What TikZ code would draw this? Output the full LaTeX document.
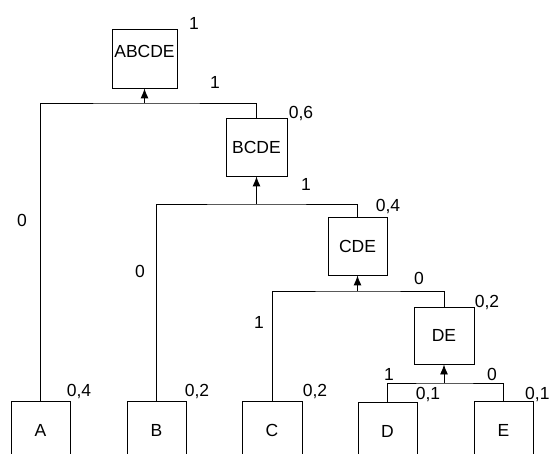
\documentclass[tikz,border=0pt]{standalone}
\usepackage{fontspec}
\setmainfont{Liberation Sans}
\usetikzlibrary{arrows.meta}
\begin{document}
\begin{tikzpicture}[x=1pt,y=-1pt,
  box/.style={draw, line width=0.9pt, minimum width=60pt, minimum height=58pt, inner sep=0pt,
    text height=12.5pt, text depth=0pt, font=\fontsize{17.5}{20}\selectfont},
  lbl/.style={inner sep=0pt, text height=12.5pt, text depth=0pt, font=\fontsize{17.5}{20}\selectfont},
  edge/.style={line width=0.9pt},
  up/.style={line width=0.9pt, -{Latex[length=10pt,width=8pt]}}]
\useasboundingbox (0,0) rectangle (549,454);
\clip (0,0) rectangle (549,454);
% boxes
\node[box, minimum width=65pt, minimum height=59pt, text depth=14pt] (abcde) at (144.5,58.5) {ABCDE};
\node[box, minimum width=61pt] (bcde) at (256.5,147) {BCDE};
\node[box, minimum width=59pt] (cde) at (357.5,246) {CDE};
\node[box, minimum width=60pt, minimum height=57pt] (de) at (444,335.5) {DE};
\node[box, minimum width=59pt] (a) at (40.5,430) {A};
\node[box, minimum width=59pt] (b) at (156.5,430) {B};
\node[box, minimum width=60pt] (c) at (272,430) {C};
\node[box, minimum width=59pt] (d) at (387.5,431) {D};
\node[box, minimum width=59pt] (e) at (503.5,430) {E};
% junctions
\coordinate (j1) at (144.5,103);
\coordinate (j2) at (256.5,204);
\coordinate (j3) at (357.5,291);
\coordinate (j4) at (444,383);
\draw[edge] (a.north) |- (j1) -| (bcde.north);
\draw[up] (j1) -- (abcde.south);
\draw[edge] (b.north) |- (j2) -| (cde.north);
\draw[up] (j2) -- (bcde.south);
\draw[edge] (c.north) |- (j3) -| (de.north);
\draw[up] (j3) -- (cde.south);
\draw[edge] (d.north) |- (j4) -| (e.north);
\draw[up] (j4) -- (de.south);
% labels
\node[lbl] (p1) at (194,23) {1};
\node[lbl] (b1) at (215,82) {1};
\node[lbl] (p2) at (301,112) {0,6};
\node[lbl] (b0) at (22,220) {0};
\node[lbl] (b2) at (306,184) {1};
\node[lbl] (p3) at (388,205) {0,4};
\node[lbl] (b3) at (140,271) {0};
\node[lbl] (b4) at (419,278) {0};
\node[lbl] (p4) at (487,301) {0,2};
\node[lbl] (b5) at (259,322) {1};
\node[lbl] (b6) at (389,374) {1};
\node[lbl] (b7) at (492,374) {0};
\node[lbl] (pa) at (79,390) {0,4};
\node[lbl] (pb) at (197,390) {0,2};
\node[lbl] (pc) at (315,390) {0,2};
\node[lbl] (pd) at (428,393) {0,1};
\node[lbl, anchor=west] (pe) at (525,393) {0,1};
\end{tikzpicture}
\end{document}
